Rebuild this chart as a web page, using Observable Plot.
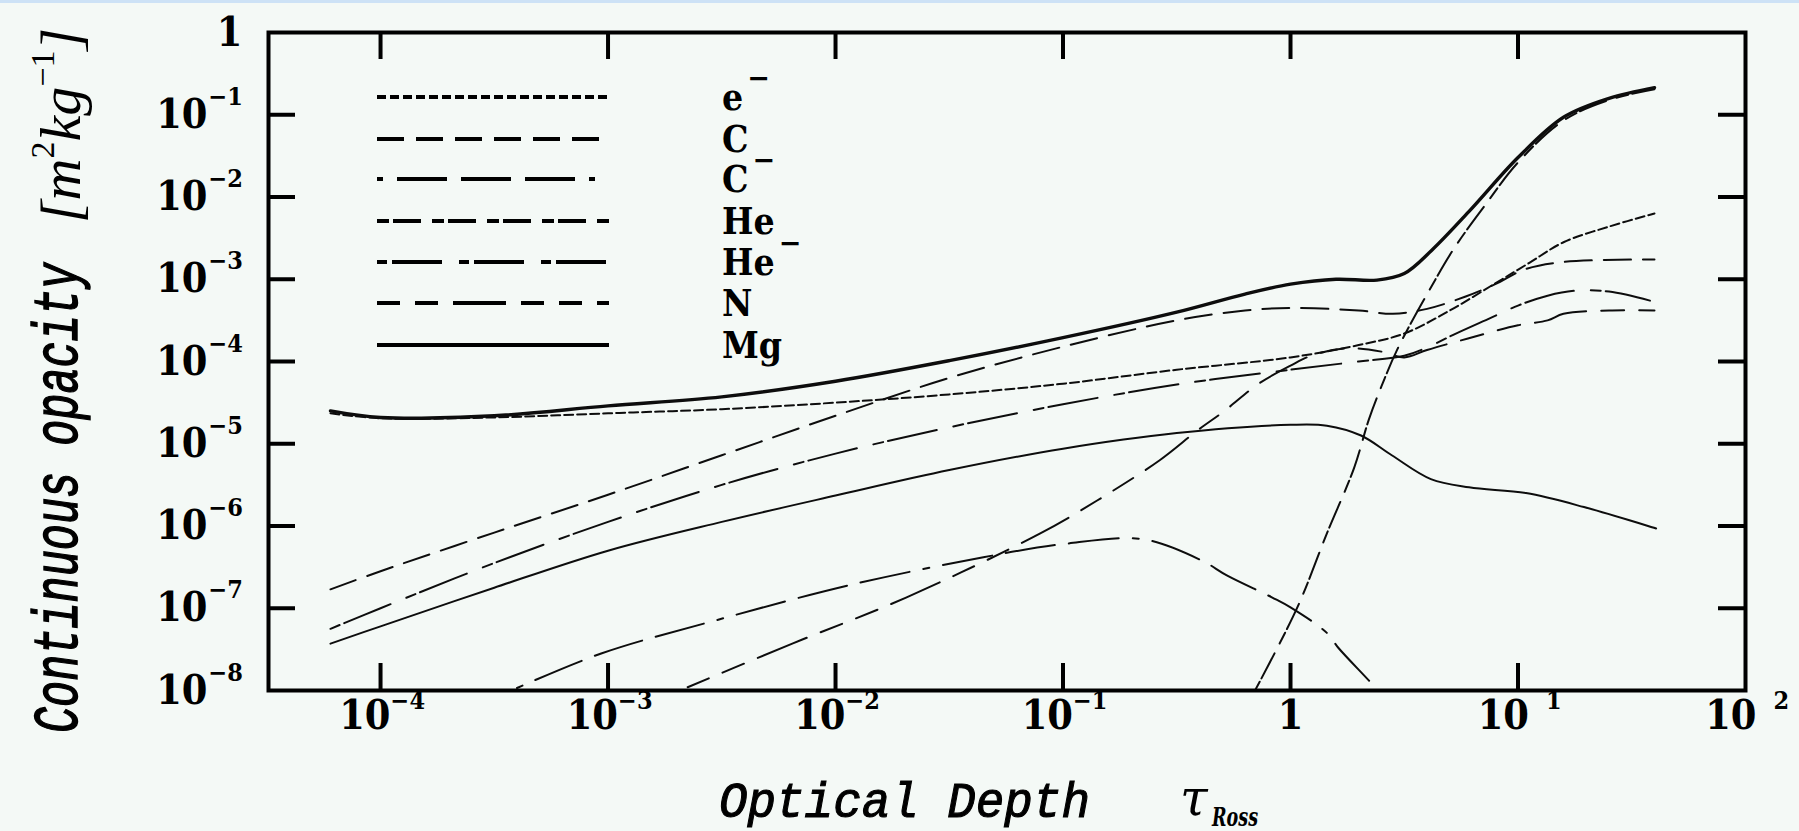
<!DOCTYPE html>
<html>
<head>
<meta charset="utf-8">
<script src="https://cdn.jsdelivr.net/npm/d3@7"></script>
<script src="https://cdn.jsdelivr.net/npm/@observablehq/plot@0.6"></script>
<style>
  html, body { margin:0; padding:0; background:#f4f9f6; overflow:hidden; }
  #wrap { position:relative; width:1799px; height:831px; }
  #band { position:absolute; left:0; top:0; width:1799px; height:3px; background:#cde2f6; }
</style>
</head>
<body>
<div id="wrap"><div id="band"></div></div>
<script>
// ---------------- data: log10(tau_Ross) and log10(opacity) ----------------
const seriesNames = ["e⁻","C","C⁻","He","He⁻","N","Mg"];
const legendBase  = ["e","C","C","He","He","N","Mg"];
const legendSup   = ["−","","−","","−","",""];

const totalLogTau = [-4.22,-4.0,-3.5,-3.0,-2.5,-2.0,-1.5,-1.0,-0.5,-0.2,0.0,0.2,0.38,0.5,0.62,0.79,1.0,1.2,1.4,1.6];
const totalLogK   = [-4.60,-4.68,-4.66,-4.54,-4.43,-4.24,-3.99,-3.71,-3.40,-3.18,-3.06,-3.00,-3.01,-2.93,-2.65,-2.16,-1.52,-1.03,-0.80,-0.67];

const eLogTau = [-4.22,-4.0,-3.5,-3.0,-2.5,-2.0,-1.5,-1.0,-0.5,0.0,0.3,0.5,0.7,0.9,1.05,1.2,1.4,1.6];
const eLogK   = [-4.63,-4.69,-4.68,-4.63,-4.58,-4.50,-4.40,-4.27,-4.10,-3.95,-3.80,-3.66,-3.38,-3.05,-2.80,-2.55,-2.36,-2.20];

const cLogTau = [-4.22,-4.0,-3.5,-3.0,-2.5,-2.0,-1.5,-1.0,-0.5,-0.2,0.0,0.3,0.45,0.6,0.77,0.9,1.03,1.2,1.6];
const cLogK   = [-6.77,-6.55,-6.08,-5.62,-5.14,-4.66,-4.20,-3.82,-3.50,-3.38,-3.35,-3.38,-3.42,-3.36,-3.21,-3.06,-2.88,-2.79,-2.76];

const cmLogTau = [-3.4,-3.03,-2.53,-1.94,-1.35,-1.0,-0.65,-0.39,-0.28,-0.08,0.0,0.16,0.21,0.345,0.4];
const cmLogK   = [-7.97,-7.55,-7.15,-6.72,-6.38,-6.22,-6.16,-6.42,-6.60,-6.87,-6.99,-7.30,-7.48,-7.88,-8.05];

const heLogTau = [-0.16,0.03,0.16,0.28,0.345,0.4,0.47,0.617,0.72,0.85,1.0,1.2,1.4,1.6];
const heLogK   = [-8.02,-6.99,-6.09,-5.29,-4.70,-4.30,-3.85,-3.10,-2.62,-2.12,-1.58,-1.07,-0.82,-0.69];

const hemLogTau = [-4.22,-4.0,-3.5,-3.0,-2.5,-2.0,-1.5,-1.0,-0.5,0.0,0.3,0.5,0.6,0.72,0.88,1.0,1.13,1.25,1.4,1.58];
const hemLogK   = [-7.25,-7.00,-6.45,-5.95,-5.50,-5.12,-4.80,-4.52,-4.28,-4.10,-4.00,-3.93,-3.83,-3.67,-3.47,-3.32,-3.20,-3.14,-3.15,-3.26];

const nLogTau = [-2.65,-2.19,-1.69,-1.1,-0.85,-0.575,-0.41,-0.29,-0.14,0.0,0.1,0.25,0.4,0.5,0.6,0.78,1.0,1.13,1.2,1.4,1.6];
const nLogK   = [-7.96,-7.43,-6.87,-6.09,-5.69,-5.20,-4.84,-4.60,-4.27,-4.05,-3.92,-3.84,-3.88,-3.95,-3.86,-3.72,-3.56,-3.50,-3.42,-3.38,-3.38];

const mgLogTau = [-4.22,-4.0,-3.5,-3.0,-2.5,-2.0,-1.5,-1.0,-0.5,0.0,0.16,0.31,0.445,0.617,0.785,1.035,1.29,1.607];
const mgLogK   = [-7.43,-7.22,-6.75,-6.30,-5.95,-5.63,-5.32,-5.06,-4.87,-4.77,-4.78,-4.90,-5.14,-5.43,-5.53,-5.60,-5.77,-6.03];

const xTickVals = [1e-4,1e-3,1e-2,1e-1,1,10,100];
const xTickBase = ["10","10","10","10","1","10","10"];
const xTickExp  = ["−4","−3","−2","−1","","1","2"];
const yTickVals = [1,1e-1,1e-2,1e-3,1e-4,1e-5,1e-6,1e-7,1e-8];
const yTickBase = ["1","10","10","10","10","10","10","10","10"];
const yTickExp  = ["","−1","−2","−3","−4","−5","−6","−7","−8"];

// ---------------- styles ----------------
const dashes = {"e⁻":"9,4","C":"27,12","C⁻":"6,14,50,14,50,14,50,14","He":"12,4,28,11","He⁻":"10,5,50,17","N":"23,15,23,15,53,15","Mg":null};
const INK = "#0d0d0d";
const NUMFONT = "'DejaVu Serif Condensed','DejaVu Serif',serif";

function toRows(lt, lk){ return lt.map((t,i)=>({tau:Math.pow(10,t), kappa:Math.pow(10,lk[i])})); }
const curves = [
  {name:"e⁻",  rows:toRows(eLogTau,eLogK),     w:2},
  {name:"C",   rows:toRows(cLogTau,cLogK),     w:2},
  {name:"C⁻",  rows:toRows(cmLogTau,cmLogK),   w:2},
  {name:"He",  rows:toRows(heLogTau,heLogK),   w:2},
  {name:"He⁻", rows:toRows(hemLogTau,hemLogK), w:2},
  {name:"N",   rows:toRows(nLogTau,nLogK),     w:2},
  {name:"Mg",  rows:toRows(mgLogTau,mgLogK),   w:2}
];
const totalRows = toRows(totalLogTau,totalLogK);

const FW = 1799-268-54, FH = 831-32-141, TICK = 27;
const idx = (arr, f) => arr.map((_,i)=>i).filter(f);
const xNeg = idx(xTickVals, i=>xTickExp[i].startsWith("−"));
const xPos = idx(xTickVals, i=>xTickExp[i] !== "" && !xTickExp[i].startsWith("−"));
const xOne = idx(xTickVals, i=>xTickExp[i] === "");
const yExpI = idx(yTickVals, i=>yTickExp[i] !== "");
const yOneI = idx(yTickVals, i=>yTickExp[i] === "");

const marks = [];
curves.forEach(c => marks.push(Plot.line(c.rows, {x:"tau", y:"kappa", stroke:INK, strokeWidth:c.w,
  strokeDasharray:dashes[c.name] || undefined, curve:"catmull-rom", clip:true})));
marks.push(Plot.line(totalRows, {x:"tau", y:"kappa", stroke:INK, strokeWidth:3.4, curve:"catmull-rom", clip:true}));

// inward ticks on all four sides
const xInner = xTickVals.filter(v => v < 100);
const yInner = yTickVals.filter(v => v > 1e-8 && v < 1);
marks.push(Plot.ruleX(xInner, {x:d=>d, insetTop:FH-TICK, stroke:"#000", strokeWidth:4}));
marks.push(Plot.ruleX(xInner, {x:d=>d, insetBottom:FH-TICK, stroke:"#000", strokeWidth:4}));
marks.push(Plot.ruleY(yInner, {y:d=>d, insetRight:FW-TICK, stroke:"#000", strokeWidth:4}));
marks.push(Plot.ruleY(yInner, {y:d=>d, insetLeft:FW-TICK, stroke:"#000", strokeWidth:4}));
marks.push(Plot.frame({stroke:"#000", strokeWidth:4}));

// tick labels
const big = {fontFamily:NUMFONT, fontWeight:"bold", fontSize:41, fill:"#000"};
const sup = {fontFamily:NUMFONT, fontWeight:"bold", fontSize:25, fill:"#000"};
marks.push(Plot.text(xNeg, {x:i=>xTickVals[i], text:i=>xTickBase[i], frameAnchor:"bottom", dy:38, dx:10, textAnchor:"end", ...big}));
marks.push(Plot.text(xNeg, {x:i=>xTickVals[i], text:i=>xTickExp[i], frameAnchor:"bottom", dy:18, dx:10, textAnchor:"start", ...sup}));
marks.push(Plot.text(xOne, {x:i=>xTickVals[i], text:i=>xTickBase[i], frameAnchor:"bottom", dy:38, textAnchor:"middle", ...big}));
marks.push(Plot.text(xPos, {x:i=>xTickVals[i], text:i=>xTickBase[i], frameAnchor:"bottom", dy:38, dx:11, textAnchor:"end", ...big}));
marks.push(Plot.text(xPos, {x:i=>xTickVals[i], text:i=>xTickExp[i], frameAnchor:"bottom", dy:18, dx:28, textAnchor:"start", ...sup}));
marks.push(Plot.text(yExpI, {y:i=>yTickVals[i], text:i=>yTickBase[i], frameAnchor:"left", dx:-61, textAnchor:"end", ...big}));
marks.push(Plot.text(yExpI, {y:i=>yTickVals[i], text:i=>yTickExp[i], frameAnchor:"left", dx:-60, dy:-18, textAnchor:"start", ...sup}));
marks.push(Plot.text(yOneI, {y:i=>yTickVals[i], text:i=>yTickBase[i], frameAnchor:"left", dx:-26, textAnchor:"end", ...big}));

const plot = Plot.plot({
  width:1799, height:831,
  marginTop:32, marginRight:54, marginBottom:141, marginLeft:268,
  style:{background:"transparent", overflow:"visible"},
  x:{type:"log", domain:[Math.pow(10,-4.4925), 100], axis:null},
  y:{type:"log", domain:[1e-8, 1], axis:null},
  marks
});
document.getElementById("wrap").appendChild(plot);

// ---------------- legend, axis titles ----------------
const svg = d3.select(plot);
const legendY = [97,139,179,221,262,303,345];
seriesNames.forEach((name,i) => {
  const y = legendY[i];
  const ln = svg.append("line").attr("x1",377).attr("x2",609).attr("y1",y).attr("y2",y)
    .attr("stroke","#000").attr("stroke-width",4);
  if (dashes[name]) ln.attr("stroke-dasharray", dashes[name]);
  const t = svg.append("text").attr("x",722).attr("y",y+13).attr("text-anchor","start")
    .attr("font-family",NUMFONT).attr("font-weight","bold").attr("font-size",37).attr("fill","#000");
  t.append("tspan").text(legendBase[i]);
  if (legendSup[i]) t.append("tspan").attr("dy",-22).attr("dx",4).attr("font-size",30).text(legendSup[i]);
});

// y title
svg.append("text").attr("transform","translate(77,733) rotate(-90) scale(1,1.35)").attr("text-anchor","start")
  .attr("font-family","'Liberation Mono',monospace").attr("font-style","italic").attr("font-size",46)
  .attr("stroke","#000").attr("stroke-width",1.1)
  .attr("textLength",470).attr("lengthAdjust","spacingAndGlyphs").attr("fill","#000")
  .text("Continuous opacity");
const yu = svg.append("text").attr("transform","translate(80,223) rotate(-90)").attr("text-anchor","start")
  .attr("font-family","'Liberation Serif',serif").attr("font-style","italic").attr("font-size",58).attr("fill","#000");
yu.append("tspan").text("[m");
yu.append("tspan").attr("dy",-26).attr("font-size",34).attr("font-style","normal").text("2");
yu.append("tspan").attr("dy",26).text("kg");
yu.append("tspan").attr("dy",-26).attr("font-size",34).attr("font-style","normal").text("−1");
yu.append("tspan").attr("dy",26).text("]");

// x title
svg.append("text").attr("x",719).attr("y",817).attr("text-anchor","start")
  .attr("font-family","'Liberation Mono',monospace").attr("font-style","italic").attr("font-size",50)
  .attr("stroke","#000").attr("stroke-width",1.1)
  .attr("textLength",371).attr("lengthAdjust","spacingAndGlyphs").attr("fill","#000")
  .text("Optical Depth");
svg.append("text").attr("x",1180).attr("y",815).attr("text-anchor","start")
  .attr("font-family","'DejaVu Serif',serif").attr("font-style","italic").attr("font-size",50).attr("fill","#000")
  .text("τ");
svg.append("text").attr("x",1212).attr("y",826).attr("text-anchor","start")
  .attr("font-family",NUMFONT).attr("font-style","italic").attr("font-weight","bold").attr("font-size",26)
  .attr("textLength",46).attr("lengthAdjust","spacingAndGlyphs").attr("fill","#000")
  .text("Ross");
</script>
</body>
</html>
